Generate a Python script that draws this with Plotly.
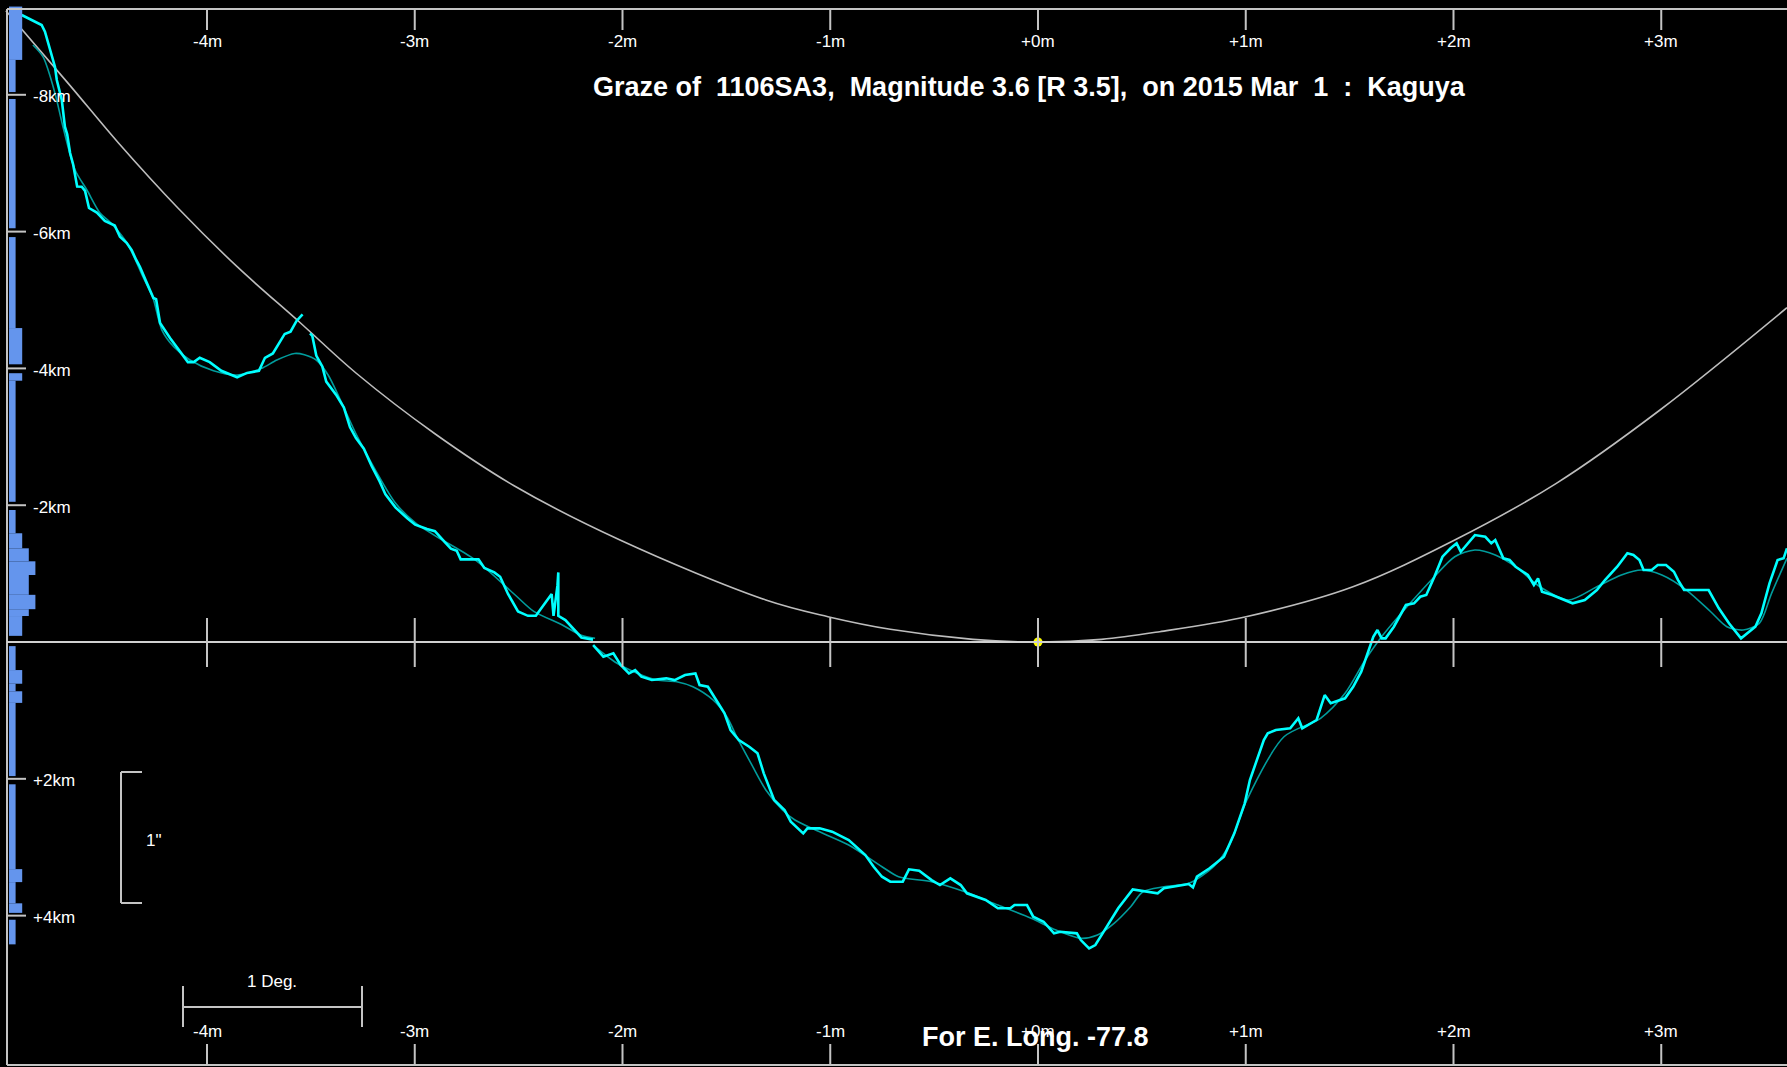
import plotly.graph_objects as go

W, H = 1787, 1067

# Axis extents: time in minutes across, limb height in km (negative upward)
X_RANGE = [-4.9964, 3.6053]
Y_RANGE = [6.213, -9.386]

minute_ticks = [-4, -3, -2, -1, 0, 1, 2, 3]
minute_labels = ["-4m", "-3m", "-2m", "-1m", "+0m", "+1m", "+2m", "+3m"]
km_ticks = [-8, -6, -4, -2, 2, 4]
km_labels = ["-8km", "-6km", "-4km", "-2km", "+2km", "+4km"]

TITLE = "Graze of  1106SA3,  Magnitude 3.6 [R 3.5],  on 2015 Mar  1  :  Kaguya"
FOOTER = "For E. Long. -77.8"

# Kaguya limb profile (three pieces)
profile_a_min = [-4.892, -4.796, -4.780, -4.732, -4.723, -4.699, -4.684, -4.673, -4.659, -4.644,
                 -4.625, -4.603, -4.587, -4.568, -4.530, -4.492, -4.444, -4.419, -4.387, -4.363,
                 -4.340, -4.323, -4.292, -4.258, -4.245, -4.226, -4.178, -4.121, -4.092, -4.064,
                 -4.035, -3.987, -3.931, -3.855, -3.807, -3.750, -3.721, -3.683, -3.626, -3.598,
                 -3.569, -3.540]
profile_a_km = [-9.167, -9.020, -8.923, -8.411, -8.216, -7.924, -7.534, -7.421, -7.149, -6.977,
                -6.659, -6.657, -6.596, -6.345, -6.279, -6.155, -6.089, -5.925, -5.836, -5.731,
                -5.582, -5.487, -5.265, -5.029, -5.012, -4.664, -4.444, -4.219, -4.092, -4.092,
                -4.155, -4.092, -3.965, -3.870, -3.934, -3.965, -4.155, -4.219, -4.504, -4.537,
                -4.694, -4.789]

profile_b_min = [-3.504, -3.493, -3.474, -3.445, -3.426, -3.379, -3.341, -3.312, -3.283, -3.245,
                 -3.207, -3.169, -3.141, -3.093, -3.036, -2.998, -2.941, -2.903, -2.864, -2.826,
                 -2.798, -2.779, -2.732, -2.693, -2.665, -2.617, -2.589, -2.551, -2.503, -2.455,
                 -2.417, -2.370, -2.341, -2.332, -2.313, -2.309, -2.309, -2.275, -2.237, -2.198,
                 -2.142]
profile_b_km = [-4.513, -4.474, -4.187, -4.029, -3.807, -3.617, -3.427, -3.142, -2.982, -2.825,
                -2.570, -2.348, -2.158, -1.968, -1.810, -1.715, -1.652, -1.620, -1.491, -1.365,
                -1.335, -1.208, -1.208, -1.208, -1.082, -1.018, -0.953, -0.702, -0.447, -0.383,
                -0.383, -0.573, -0.702, -0.383, -0.827, -1.018, -0.383, -0.320, -0.193, -0.066,
                -0.035]

profile_c_min = [-2.141, -2.092, -2.044, -2.009, -1.969, -1.939, -1.909, -1.859, -1.789, -1.749,
                 -1.699, -1.649, -1.629, -1.589, -1.549, -1.509, -1.480, -1.440, -1.390, -1.350,
                 -1.320, -1.270, -1.220, -1.190, -1.130, -1.110, -1.051, -0.991, -0.911, -0.831,
                 -0.791, -0.751, -0.711, -0.651, -0.621, -0.572, -0.512, -0.472, -0.422, -0.372,
                 -0.342, -0.252, -0.193, -0.133, -0.113, -0.053, -0.023, 0.027, 0.077, 0.107,
                 0.187, 0.206, 0.246, 0.276, 0.326, 0.386, 0.456, 0.506, 0.576, 0.606,
                 0.666, 0.725, 0.746, 0.765, 0.826, 0.895, 0.945, 0.995, 1.020, 1.087,
                 1.106, 1.145, 1.214, 1.253, 1.272, 1.341, 1.380, 1.409, 1.478, 1.517,
                 1.556, 1.595, 1.614, 1.634, 1.654, 1.673, 1.713, 1.771, 1.810, 1.840,
                 1.869, 1.908, 1.947, 1.986, 2.015, 2.035, 2.055, 2.103, 2.153, 2.182,
                 2.201, 2.240, 2.270, 2.299, 2.358, 2.387, 2.407, 2.426, 2.475, 2.514,
                 2.573, 2.632, 2.690, 2.729, 2.788, 2.837, 2.866, 2.895, 2.915, 2.954,
                 2.983, 3.023, 3.061, 3.081, 3.110, 3.160, 3.228, 3.277, 3.326, 3.384,
                 3.453, 3.482, 3.521, 3.560, 3.589, 3.605]
profile_c_km = [0.044, 0.215, 0.165, 0.336, 0.458, 0.409, 0.507, 0.556, 0.531, 0.556,
                0.482, 0.458, 0.629, 0.654, 0.848, 1.042, 1.287, 1.433, 1.531, 1.627,
                1.920, 2.310, 2.456, 2.627, 2.797, 2.724, 2.724, 2.773, 2.895, 3.114,
                3.285, 3.431, 3.504, 3.504, 3.323, 3.344, 3.480, 3.553, 3.455, 3.553,
                3.674, 3.772, 3.893, 3.893, 3.845, 3.845, 4.016, 4.089, 4.259, 4.235,
                4.259, 4.357, 4.478, 4.430, 4.186, 3.893, 3.616, 3.636, 3.674, 3.601,
                3.567, 3.538, 3.586, 3.431, 3.308, 3.139, 2.797, 2.358, 2.018, 1.433,
                1.335, 1.287, 1.262, 1.115, 1.262, 1.140, 0.775, 0.896, 0.823, 0.654,
                0.434, 0.069, -0.077, -0.175, -0.054, -0.054, -0.224, -0.541, -0.566, -0.662,
                -0.687, -0.955, -1.247, -1.370, -1.443, -1.320, -1.393, -1.564, -1.539, -1.443,
                -1.491, -1.224, -1.199, -1.101, -0.980, -0.833, -0.931, -0.735, -0.687, -0.639,
                -0.566, -0.614, -0.760, -0.906, -1.101, -1.297, -1.272, -1.199, -1.053, -1.053,
                -1.126, -1.126, -1.028, -0.906, -0.760, -0.760, -0.760, -0.493, -0.273, -0.054,
                -0.224, -0.420, -0.858, -1.199, -1.224, -1.370]

# Smoothed profile (two pieces)
smooth_a_min = [-4.838, -4.789, -4.732, -4.693, -4.635, -4.578, -4.515, -4.467, -4.385, -4.308,
                -4.260, -4.217, -4.159, -4.082, -3.969, -3.856, -3.740, -3.664, -3.578, -3.531,
                -3.474, -3.417, -3.360, -3.283, -3.188, -3.093, -2.998, -2.903, -2.712, -2.522,
                -2.427, -2.294, -2.198, -2.132]
smooth_a_km = [-8.728, -8.553, -8.026, -7.529, -6.901, -6.608, -6.272, -6.140, -5.833, -5.336,
               -5.029, -4.561, -4.313, -4.123, -3.965, -3.904, -3.997, -4.123, -4.219, -4.200,
               -4.123, -3.904, -3.553, -3.045, -2.507, -2.032, -1.746, -1.556, -1.208, -0.702,
               -0.447, -0.256, -0.098, -0.054]

smooth_b_min = [-2.142, -2.028, -1.932, -1.835, -1.739, -1.661, -1.564, -1.498, -1.450, -1.390,
                -1.310, -1.230, -1.170, -1.071, -0.911, -0.751, -0.671, -0.512, -0.352, -0.193,
                -0.033, 0.087, 0.207, 0.286, 0.366, 0.446, 0.505, 0.606, 0.725, 0.845,
                0.925, 1.005, 1.184, 1.360, 1.478, 1.575, 1.654, 1.791, 1.908, 2.006,
                2.103, 2.201, 2.299, 2.416, 2.553, 2.690, 2.808, 2.905, 3.003, 3.121,
                3.238, 3.316, 3.394, 3.472, 3.531, 3.605]
smooth_b_km = [0.044, 0.307, 0.453, 0.556, 0.580, 0.654, 0.848, 1.092, 1.385, 1.725,
               2.164, 2.456, 2.602, 2.749, 2.968, 3.285, 3.431, 3.504, 3.651, 3.845,
               4.039, 4.211, 4.332, 4.284, 4.113, 3.870, 3.651, 3.577, 3.528, 3.285,
               2.943, 2.310, 1.385, 1.115, 0.750, 0.263, -0.077, -0.566, -0.955, -1.247,
               -1.345, -1.272, -1.101, -0.808, -0.614, -0.808, -0.980, -1.053, -0.980, -0.760,
               -0.443, -0.224, -0.175, -0.273, -0.712, -1.224]

# Mean-limb reference curve
limb_min = [-4.968, -4.663, -4.426, -4.140, -3.855, -3.550, -3.283, -2.903, -2.522, -2.012,
            -1.310, -1.011, -0.711, -0.313, 0.0, 0.306, 0.586, 1.001, 1.516, 2.006,
            2.495, 2.994, 3.605]
limb_km = [-9.228, -8.149, -7.295, -6.345, -5.487, -4.664, -3.933, -3.045, -2.285, -1.491,
           -0.614, -0.370, -0.186, -0.039, 0.0, -0.039, -0.151, -0.370, -0.808, -1.491,
           -2.320, -3.392, -4.887]

# Height histogram along the left edge
hist_top_km = [-9.29, -8.51, -7.94, -5.92, -4.59, -3.93, -3.82, -1.93, -1.59, -1.37,
               -1.18, -0.98, -0.69, -0.48, -0.38, 0.06, 0.41, 0.61, 0.72, 0.89,
               2.08, 3.32, 3.51, 3.82, 4.06]
hist_bottom_km = [-8.51, -8.04, -6.05, -4.59, -4.06, -3.82, -2.05, -1.59, -1.37, -1.18,
                  -0.98, -0.69, -0.48, -0.38, -0.09, 0.41, 0.61, 0.72, 0.89, 1.96,
                  3.32, 3.51, 3.82, 3.96, 4.42]
hist_count = [2, 1, 1, 1, 2, 2, 1, 1, 2, 3,
              4, 3, 4, 3, 2, 1, 2, 1, 2, 1,
              1, 2, 1, 2, 1]

CYAN = "#00FFFF"
TEAL = "#009C9C"
GREY = "#C4C4C4"
FONT = "Liberation Sans, Arial, sans-serif"


def px_x(p):
    return p / W


def px_y(p):
    return 1 - p / H


fig = go.Figure()

fig.add_trace(go.Bar(
    orientation="h",
    y=[(t + b) / 2 for t, b in zip(hist_top_km, hist_bottom_km)],
    x=hist_count,
    width=[b - t for t, b in zip(hist_top_km, hist_bottom_km)],
    base=0,
    marker=dict(color="#6495ED", line=dict(width=0)),
    xaxis="x2", yaxis="y",
))

fig.add_trace(go.Scatter(x=limb_min, y=limb_km, mode="lines",
                         line=dict(color="#BDBDBD", width=1.6, shape="spline")))

for xs, ys in [(smooth_a_min, smooth_a_km), (smooth_b_min, smooth_b_km)]:
    fig.add_trace(go.Scatter(x=xs, y=ys, mode="lines",
                             line=dict(color=TEAL, width=1.6, shape="spline", smoothing=0.8)))

for xs, ys in [(profile_a_min, profile_a_km), (profile_b_min, profile_b_km),
               (profile_c_min, profile_c_km)]:
    fig.add_trace(go.Scatter(x=xs, y=ys, mode="lines",
                             line=dict(color=CYAN, width=2.6)))

fig.add_trace(go.Scatter(x=[0], y=[0], mode="markers",
                         marker=dict(color="#FFFF00", size=9, line=dict(width=0))))

shapes = []


def seg(x0, y0, x1, y1, xref="paper", yref="paper", color=GREY, width=2):
    shapes.append(dict(type="line", x0=x0, y0=y0, x1=x1, y1=y1, xref=xref, yref=yref,
                       line=dict(color=color, width=width), layer="above"))


# frame
seg(px_x(7), px_y(9), 1, px_y(9))
seg(px_x(7), px_y(9), px_x(7), px_y(1065))
seg(px_x(7), px_y(1065), 1, px_y(1065))
# zero line
seg(px_x(7), 0, 1, 0, yref="y", color="#D0D0D0")

annotations = []
for m, lab in zip(minute_ticks, minute_labels):
    seg(m, px_y(9), m, px_y(30), xref="x")
    seg(m, px_y(618), m, px_y(667), xref="x")
    seg(m, px_y(1044), m, px_y(1065), xref="x")

for k, lab in zip(km_ticks, km_labels):
    seg(px_x(7), k, px_x(26), k, yref="y")
    annotations.append(dict(x=px_x(31), y=k, xref="paper", yref="y", text=lab,
                            showarrow=False, xanchor="left", yanchor="middle", yshift=-2,
                            font=dict(family=FONT, size=17, color="#FFFFFF")))

# scale bars
seg(px_x(183), px_y(1007), px_x(362), px_y(1007))
seg(px_x(183), px_y(986), px_x(183), px_y(1027))
seg(px_x(362), px_y(986), px_x(362), px_y(1027))
seg(px_x(121), px_y(772), px_x(121), px_y(903))
seg(px_x(121), px_y(772), px_x(142), px_y(772))
seg(px_x(121), px_y(903), px_x(142), px_y(903))

annotations.append(dict(x=px_x(272), y=px_y(981), xref="paper", yref="paper", text="1 Deg.",
                        showarrow=False, xanchor="center", yanchor="middle",
                        font=dict(family=FONT, size=17, color="#FFFFFF")))
annotations.append(dict(x=px_x(154), y=px_y(840), xref="paper", yref="paper", text='1"',
                        showarrow=False, xanchor="center", yanchor="middle",
                        font=dict(family=FONT, size=17, color="#FFFFFF")))

annotations.append(dict(x=px_x(1029), y=px_y(87), xref="paper", yref="paper", text=TITLE,
                        showarrow=False, xanchor="center", yanchor="middle",
                        font=dict(family=FONT, size=27, color="#FFFFFF", weight="bold")))
annotations.append(dict(x=px_x(1035), y=px_y(1037), xref="paper", yref="paper", text=FOOTER,
                        showarrow=False, xanchor="center", yanchor="middle",
                        font=dict(family=FONT, size=27, color="#FFFFFF", weight="bold")))

for m, lab in zip(minute_ticks, minute_labels):
    annotations.append(dict(x=m, y=px_y(42), xref="x", yref="paper", text=lab,
                            showarrow=False, xanchor="center", yanchor="middle",
                            font=dict(family=FONT, size=17, color="#FFFFFF")))
    annotations.append(dict(x=m, y=px_y(1031), xref="x", yref="paper", text=lab,
                            showarrow=False, xanchor="center", yanchor="middle",
                            font=dict(family=FONT, size=17, color="#FFFFFF")))

fig.update_layout(
    width=W, height=H,
    margin=dict(l=0, r=0, t=0, b=0, pad=0),
    paper_bgcolor="#000000", plot_bgcolor="#000000",
    showlegend=False,
    xaxis=dict(range=X_RANGE, visible=False, fixedrange=True),
    xaxis2=dict(range=[-9 / 6.6, (W - 9) / 6.6], overlaying="x", visible=False),
    yaxis=dict(range=Y_RANGE, visible=False, fixedrange=True),
    shapes=shapes,
    annotations=annotations,
    hovermode=False,
)

fig.write_html("out.html", config={"displayModeBar": False},
               post_script="document.body.style.margin='0';document.body.style.overflow='hidden';")
